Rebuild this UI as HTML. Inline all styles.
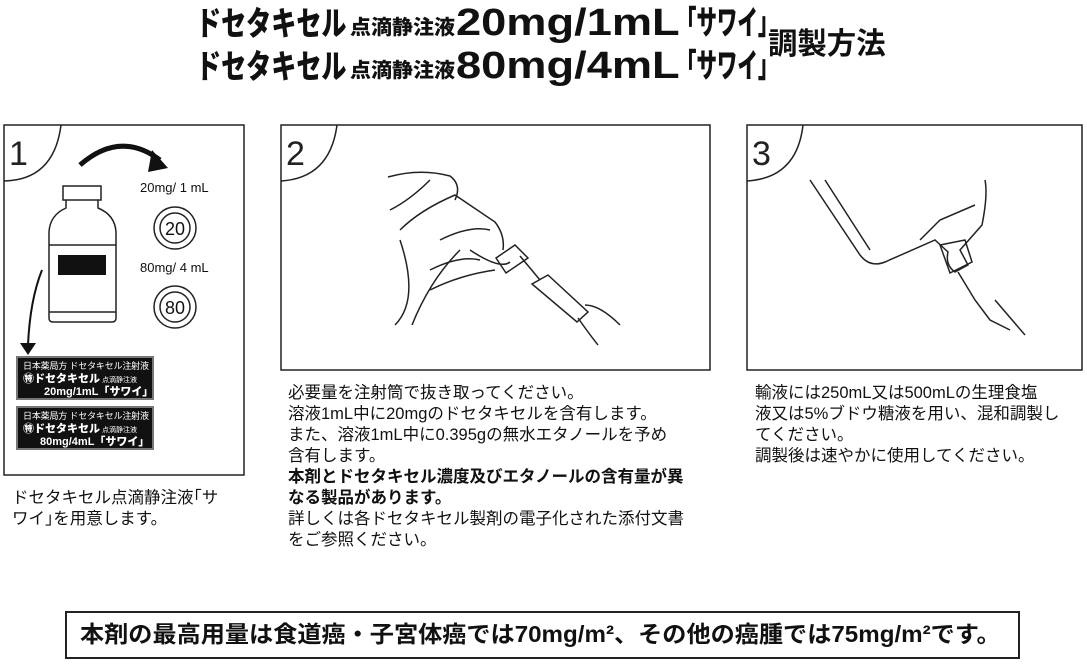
<!DOCTYPE html>
<html><head><meta charset="utf-8">
<style>
body{margin:0;width:1087px;height:671px;background:#fff;overflow:hidden;position:relative;font-family:"Liberation Sans","Noto Sans CJK JP",sans-serif;color:#111}
.a{position:absolute;white-space:nowrap}
.t{font-size:16.5px;line-height:21px}
.s{position:absolute;white-space:nowrap;transform-origin:0 0;font-weight:900;line-height:1}
</style></head><body>
<div class="s" style="left:196px;top:7px;font-size:33px;transform:scaleX(0.76)">ドセタキセル</div>
<div class="s" style="left:350px;top:18px;font-size:20px;transform:scaleX(1.05)">点滴静注液</div>
<div class="s" style="left:456px;top:4px;font-size:38px;transform:scaleX(1.19)">20mg/1mL</div>
<div class="s" style="left:676px;top:6px;font-size:33px;transform:scaleX(0.62)">「サワイ」</div>
<div class="s" style="left:196px;top:50px;font-size:33px;transform:scaleX(0.76)">ドセタキセル</div>
<div class="s" style="left:350px;top:61px;font-size:20px;transform:scaleX(1.05)">点滴静注液</div>
<div class="s" style="left:456px;top:47px;font-size:38px;transform:scaleX(1.19)">80mg/4mL</div>
<div class="s" style="left:676px;top:49px;font-size:33px;transform:scaleX(0.62)">「サワイ」</div>
<div class="s" style="left:768px;top:30px;font-size:30px;font-weight:700;transform:scaleX(0.98)">調製方法</div>

<svg class="a" style="left:0;top:0" width="1087" height="671">
<g fill="none" stroke="#222" stroke-width="1.5">
<rect x="4" y="125" width="240" height="350"/>
<path d="M4 181 Q54 180 61 125"/>
<rect x="281" y="125" width="429" height="245"/>
<path d="M281 181 Q330 178 337 125"/>
<rect x="747" y="125" width="335" height="245"/>
<path d="M747 181 Q797 178 803 125"/>
<rect x="63" y="186" width="38" height="14"/>
<path d="M66 200 V208 Q50 215 49 232 V318 Q49 322 53 322 H112 Q116 322 116 318 V232 Q115 215 98 208 V200"/>
<line x1="49" y1="245" x2="116" y2="245"/><line x1="49" y1="312" x2="116" y2="312"/>
<circle cx="175" cy="228" r="21"/><circle cx="175" cy="228" r="15"/>
<circle cx="175" cy="307" r="21"/><circle cx="175" cy="307" r="15"/>
<path d="M388 177 Q420 168 450 176 Q462 185 455 200 M390 210 Q410 200 430 180 M400 230 Q420 210 455 195 L495 222 Q505 235 503 250 M440 240 Q470 225 490 230 M430 270 Q460 255 480 260 M412 325 Q430 280 460 250 M400 240 Q420 300 395 325 M470 250 Q500 270 510 262 M430 290 Q460 275 495 270"/>
<path d="M496 258 L515 245 L528 258 L506 273 Z M520 256 L540 280 M532 284 L548 275 L588 312 L577 322 Z M585 305 Q600 305 620 325 M578 318 Q590 335 598 345"/>
<path d="M810 180 L860 255 Q870 268 885 262 L935 240 L948 252 Q945 265 955 272 L968 265 L960 250 L982 225 Q988 195 985 180 M825 180 L870 250 M920 240 L940 220 L975 205 M940 245 L965 240 L972 262 L950 273 Z M958 272 L975 300 L990 320 L1010 330 M995 300 L1025 335"/>
</g>
<rect x="58" y="255" width="48" height="20" fill="#111"/>
<path d="M80 165 Q120 130 160 160" fill="none" stroke="#111" stroke-width="5"/><path d="M152 150 L168 168 L148 172 Z" fill="#111"/>
<path d="M42 270 Q30 300 28 345" fill="none" stroke="#111" stroke-width="2"/><path d="M20 343 L36 343 L28 355 Z" fill="#111"/>
<text x="175" y="235" font-size="18" text-anchor="middle" font-family="Liberation Sans" fill="#111">20</text>
<text x="175" y="314" font-size="18" text-anchor="middle" font-family="Liberation Sans" fill="#111">80</text>
<text x="140" y="192" font-size="13" font-family="Liberation Sans" fill="#111">20mg/ 1 mL</text>
<text x="140" y="272" font-size="13" font-family="Liberation Sans" fill="#111">80mg/ 4 mL</text>
<rect x="17" y="357" width="136" height="42" fill="#111" stroke="#777" stroke-width="2"/>
<rect x="17" y="407" width="136" height="42" fill="#111" stroke="#777" stroke-width="2"/>
<g fill="#fff" font-family="Liberation Sans,Noto Sans CJK JP,sans-serif">
<text x="23" y="369" font-size="9" textLength="126">日本薬局方 ドセタキセル注射液</text>
<text x="23" y="382" font-size="11" font-weight="900">㊕ドセタキセル<tspan font-size="7" font-weight="400"> 点滴静注液</tspan></text>
<text x="44" y="395" font-size="11" font-weight="900">20mg/1mL「サワイ」</text>
<text x="23" y="419" font-size="9" textLength="126">日本薬局方 ドセタキセル注射液</text>
<text x="23" y="432" font-size="11" font-weight="900">㊕ドセタキセル<tspan font-size="7" font-weight="400"> 点滴静注液</tspan></text>
<text x="40" y="445" font-size="11" font-weight="900">80mg/4mL「サワイ」</text>
</g>
<g fill="#222" font-family="Liberation Sans,Noto Sans CJK JP,sans-serif" font-size="34"><text x="9" y="165">1</text><text x="286" y="165">2</text><text x="752" y="165">3</text></g>
<rect x="66" y="612" width="953" height="46" fill="none" stroke="#222" stroke-width="2"/>
</svg>

<div class="a t" style="left:12px;top:488px">ドセタキセル点滴静注液｢サ<br>ワイ｣を用意します。</div>
<div class="a t" style="left:288px;top:383px">必要量を注射筒で抜き取ってください。<br>溶液1mL中に20mgのドセタキセルを含有します。<br>また、溶液1mL中に0.395gの無水エタノールを予め<br>含有します。<br><b>本剤とドセタキセル濃度及びエタノールの含有量が異<br>なる製品があります。</b><br>詳しくは各ドセタキセル製剤の電子化された添付文書<br>をご参照ください。</div>
<div class="a t" style="left:755px;top:383px">輸液には250mL又は500mLの生理食塩<br>液又は5%ブドウ糖液を用い、混和調製し<br>てください。<br>調製後は速やかに使用してください。</div>
<div class="s" style="left:80px;top:623px;font-size:23px;font-weight:700;transform:scaleX(1.05)">本剤の最高用量は食道癌・子宮体癌では70mg/m²、その他の癌腫では75mg/m²です。</div>
</body></html>
